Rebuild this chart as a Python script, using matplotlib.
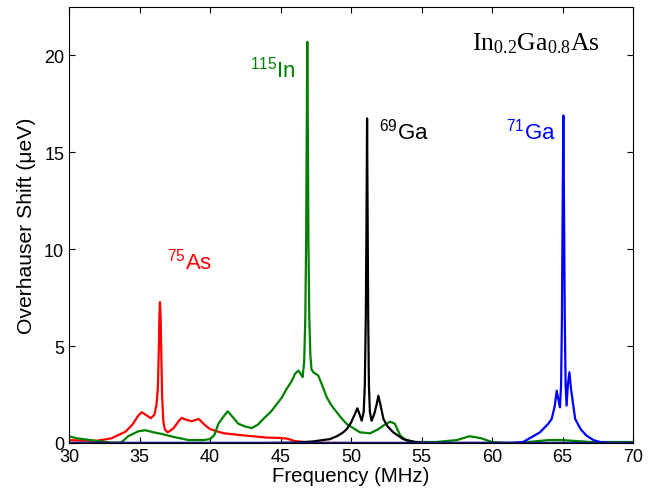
import matplotlib
matplotlib.use('Agg')
import matplotlib.pyplot as plt

# 75As (red)
freq_as = [30, 31, 32, 33, 34, 34.5, 34.9, 35.15, 35.45, 35.8, 36.05, 36.2, 36.3, 36.36,
           36.41, 36.45, 36.5, 36.55, 36.6, 36.69, 36.8, 37.0, 37.4, 37.8, 38.0, 38.3,
           38.7, 39.2, 39.6, 40.0, 40.5, 41.0, 42.0, 43.0, 44.0, 45.0, 45.5, 46.0, 47.0,
           48.0, 50, 55, 60, 65, 70]
shift_as = [0.15, 0.12, 0.12, 0.24, 0.58, 0.95, 1.4, 1.59, 1.45, 1.28, 1.45, 1.95, 2.8, 4.5,
            6.5, 7.27, 6.5, 4.5, 2.5, 1.1, 0.7, 0.55, 0.75, 1.15, 1.3, 1.2,
            1.12, 1.24, 0.95, 0.72, 0.6, 0.5, 0.42, 0.35, 0.28, 0.26, 0.22, 0.1, 0.03,
            0.01, 0, 0, 0, 0, 0]

# 115In (green)
freq_in = [30, 30.5, 31, 32, 33, 33.7, 34.2, 34.9, 35.4, 36, 36.5, 37.5, 38.5, 39.5, 40.0,
           40.3, 40.6, 41.0, 41.25, 41.6, 42.0, 42.5, 42.96, 43.4, 43.78, 44.3, 44.73,
           45.1, 45.44, 45.8, 46.03, 46.27, 46.45, 46.57, 46.68, 46.76, 46.82, 46.86, 46.9,
           46.94, 46.98, 47.04, 47.12, 47.2, 47.33, 47.68, 48.0, 48.28, 48.6, 48.99, 49.3,
           49.7, 50.2, 50.64, 51.35, 51.9, 52.4, 52.77, 53.1, 53.5, 53.95, 54.5, 56, 57.5,
           58.4, 59.2, 60.0, 61, 62, 63, 64, 65, 66, 67, 68, 70]
shift_in = [0.35, 0.25, 0.2, 0.1, 0.02, 0.02, 0.35, 0.6, 0.66, 0.55, 0.48, 0.3, 0.15, 0.15, 0.2,
            0.4, 1.0, 1.4, 1.64, 1.35, 1.0, 0.85, 0.77, 0.95, 1.24, 1.6, 2.0,
            2.35, 2.8, 3.2, 3.57, 3.74, 3.55, 3.4, 4.2, 6.5, 10.5, 16.0, 20.7,
            16.0, 10.5, 6.5, 4.5, 3.8, 3.65, 3.48, 2.9, 2.36, 1.95, 1.59, 1.3,
            0.98, 0.75, 0.55, 0.5, 0.7, 0.95, 1.1, 1.0, 0.38, 0.12, 0.05, 0.05, 0.15,
            0.35, 0.25, 0.05, 0.0, 0.02, 0.08, 0.15, 0.15, 0.1, 0.05, 0.05, 0.05]

# 69Ga (black)
freq_ga69 = [30, 44, 46, 47.3, 48.5, 49.0, 49.45, 49.7, 50.0, 50.25, 50.45, 50.62, 50.76,
             50.9, 50.98, 51.05, 51.1, 51.14, 51.18, 51.22, 51.27, 51.34, 51.46, 51.65,
             51.82, 51.94, 52.08, 52.3, 52.6, 53.0, 53.7, 54.5, 55.5, 70]
shift_ga69 = [0, 0, 0.02, 0.08, 0.2, 0.35, 0.55, 0.72, 1.05, 1.45, 1.79, 1.45, 1.15,
              1.6, 3.0, 6.5, 11.5, 16.75, 11.5, 6.5, 3.0, 1.6, 1.15, 1.5,
              2.0, 2.44, 2.0, 1.24, 0.85, 0.55, 0.2, 0.06, 0.0, 0]

# 71Ga (blue)
freq_ga71 = [30, 60, 61.5, 62.2, 63.4, 64.0, 64.23, 64.45, 64.59, 64.72, 64.82, 64.9, 64.96,
             65.01, 65.06, 65.11, 65.16, 65.22, 65.29, 65.38, 65.49, 65.6, 65.9, 66.3, 66.7,
             67.2, 67.66, 68.5, 70]
shift_ga71 = [0, 0, 0.01, 0.05, 0.55, 1.0, 1.24, 1.9, 2.7, 2.2, 1.84, 3.0, 6.5,
              12.0, 16.9, 12.0, 6.5, 3.0, 1.93, 3.0, 3.65, 2.8, 1.24, 0.7, 0.38,
              0.15, 0.05, 0, 0]

plt.rcParams['font.family'] = 'Liberation Sans'

fig = plt.figure(figsize=(6.58, 4.89), dpi=100)
ax = fig.add_axes([69 / 658, 45 / 489, 564 / 658, 436 / 489])

ax.plot(freq_as, shift_as, color='#ff0000', lw=1.6)
ax.plot(freq_in, shift_in, color='#008000', lw=1.6)
ax.plot(freq_ga69, shift_ga69, color='black', lw=1.6)
ax.plot(freq_ga71, shift_ga71, color='#0000ff', lw=1.6)
ax.axhline(0, color='#1a1a80', lw=1.6)

ax.set_xlim(30, 70)
ax.set_ylim(0, 22.5)
ax.set_xticks(range(30, 71, 5))
ax.set_yticks(range(0, 21, 5))
ax.tick_params(direction='in', top=True, right=True, length=4, labelsize=13)
ax.set_xlabel('Frequency (MHz)', fontsize=14.7, labelpad=1)
ax.set_ylabel('Overhauser Shift (\u03bceV)', fontsize=15.2, labelpad=6)

lbl = dict(fontsize=16, family='Liberation Sans')
ax.text(36.95, 9.0, r'$\mathregular{^{75}As}$', color='#ff0000', **lbl)
ax.text(42.84, 18.9, r'$\mathregular{^{115}In}$', color='#008000', **lbl)
ax.text(52.0, 15.7, r'$\mathregular{^{69}Ga}$', color='black', **lbl)
ax.text(61.0, 15.7, r'$\mathregular{^{71}Ga}$', color='#0000ff', **lbl)
ax.text(58.6, 20.3, r'$\mathregular{In_{0.2}Ga_{0.8}As}$', fontsize=18.5, family='Liberation Serif')

fig.savefig('out.png', dpi=100)
